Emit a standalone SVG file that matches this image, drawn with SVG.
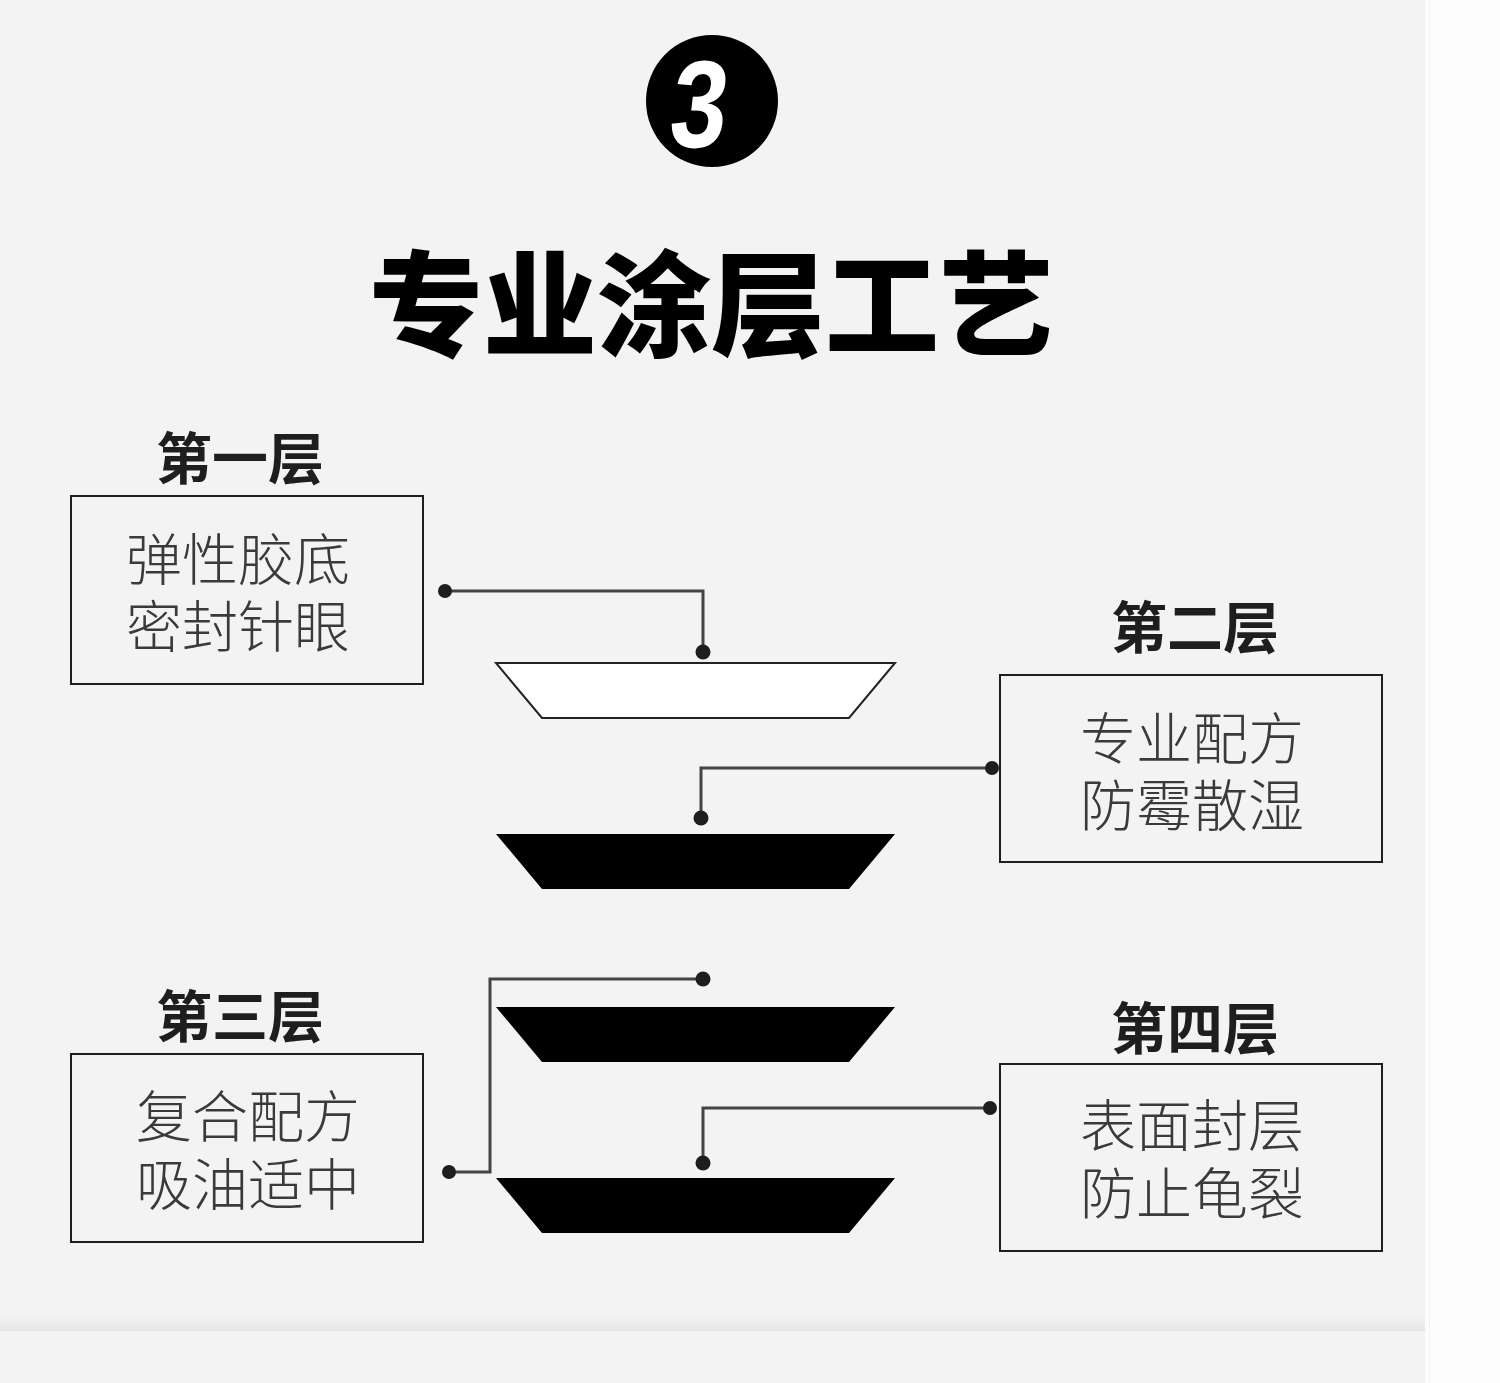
<svg xmlns="http://www.w3.org/2000/svg" width="1500" height="1383" viewBox="0 0 1500 1383">
<defs>
<linearGradient id="band" x1="0" y1="0" x2="0" y2="1">
<stop offset="0" stop-color="#f3f3f3"/>
<stop offset="1" stop-color="#e4e4e4"/>
</linearGradient>
<style>
.box{fill:none;stroke:#1e1e1e;stroke-width:2}
.lbl{font-family:"Noto Sans CJK SC","Noto Sans",sans-serif;font-weight:700;font-size:56px;fill:#1e1e1e;text-anchor:middle}
.txt{font-family:"Noto Sans CJK SC","Noto Sans",sans-serif;font-weight:300;font-size:56px;fill:#3a3a3a;text-anchor:middle}
.wire{fill:none;stroke:#444;stroke-width:3}
.dot{fill:#1e1e1e}
.trap{fill:#000}
</style>
</defs>
<rect x="0" y="0" width="1500" height="1383" fill="#f3f3f3"/>
<rect x="0" y="1317" width="1425" height="14" fill="url(#band)"/>
<rect x="1425" y="0" width="75" height="1383" fill="#fdfdfd"/>
<line x1="1429.5" y1="0" x2="1429.5" y2="1383" stroke="#f4f4f4" stroke-width="1"/>

<g id="badge">
<circle cx="712" cy="101" r="66" fill="#000"/>
<text x="0" y="147" transform="translate(712 0) scale(0.82 1) skewX(-8)" font-family="'Liberation Sans',Arial,sans-serif" font-weight="700" font-size="124" fill="#fff" text-anchor="middle">3</text>
</g>

<g id="title">
<text x="711" y="347" font-family="'Noto Sans CJK SC',sans-serif" font-weight="900" font-size="114" fill="#000" text-anchor="middle">专业涂层工艺</text>
</g>

<g id="layer1">
<text class="lbl" x="240" y="479">第一层</text>
<rect class="box" x="71" y="496" width="352" height="188"/>
<text class="txt" x="238" y="580">弹性胶底</text>
<text class="txt" x="238" y="647">密封针眼</text>
</g>

<g id="layer2">
<text class="lbl" x="1195" y="648">第二层</text>
<rect class="box" x="1000" y="675" width="382" height="187"/>
<text class="txt" x="1192" y="759">专业配方</text>
<text class="txt" x="1192" y="826">防霉散湿</text>
</g>

<g id="layer3">
<text class="lbl" x="240" y="1037">第三层</text>
<rect class="box" x="71" y="1054" width="352" height="188"/>
<text class="txt" x="248" y="1137">复合配方</text>
<text class="txt" x="248" y="1205">吸油适中</text>
</g>

<g id="layer4">
<text class="lbl" x="1195" y="1049">第四层</text>
<rect class="box" x="1000" y="1064" width="382" height="187"/>
<text class="txt" x="1192" y="1146">表面封层</text>
<text class="txt" x="1192" y="1214">防止龟裂</text>
</g>

<g id="coat1">
<polygon points="496,663 895,663 849,718 542,718" fill="#fff" stroke="#222" stroke-width="2"/>
</g>
<g id="coat2">
<polygon class="trap" points="496,834 895,834 849,889 542,889"/>
</g>
<g id="coat3">
<polygon class="trap" points="496,1007 895,1007 849,1062 542,1062"/>
</g>
<g id="coat4">
<polygon class="trap" points="496,1178 895,1178 849,1233 542,1233"/>
</g>

<g id="connectors">
<polyline class="wire" points="445,591 703,591 703,652"/>
<circle class="dot" cx="445" cy="591" r="7"/>
<circle class="dot" cx="703" cy="652" r="7.5"/>

<polyline class="wire" points="992,768 701,768 701,818"/>
<circle class="dot" cx="992" cy="768" r="7"/>
<circle class="dot" cx="701" cy="818" r="7.5"/>

<polyline class="wire" points="449,1172 490,1172 490,979 703,979"/>
<circle class="dot" cx="449" cy="1172" r="7"/>
<circle class="dot" cx="703" cy="979" r="7.5"/>

<polyline class="wire" points="990,1108 703,1108 703,1163"/>
<circle class="dot" cx="990" cy="1108" r="7"/>
<circle class="dot" cx="703" cy="1163" r="7.5"/>
</g>
</svg>
